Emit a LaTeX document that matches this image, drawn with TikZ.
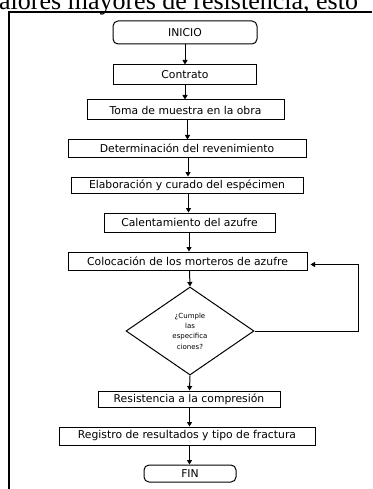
\documentclass[tikz,border=0pt]{standalone}
\usepackage{fontspec}
\setmainfont{DejaVu Sans}
\newfontfamily\seriffont{Liberation Serif}
\usetikzlibrary{shapes.geometric,arrows.meta}
\begin{document}
\begin{tikzpicture}[x=1pt,y=-1pt,
  box/.style={draw,line width=1pt,inner sep=0pt,font=\fontsize{10.8}{12}\selectfont},
  term/.style={box,rounded corners=5pt},
  dec/.style={draw,line width=1pt,diamond,inner sep=0pt,align=center,
    font=\fontsize{7}{10.3}\selectfont},
  flow/.style={line width=1pt,-{Triangle[length=4.5pt,width=5pt]}},
  frame/.style={line width=2pt}]
\useasboundingbox (0,0) rectangle (372,489);
\clip (0,0) rectangle (372,489);
% cropped caption text above the frame
\node[anchor=base west,inner sep=0pt,font=\seriffont\fontsize{26}{26}\selectfont] (cap) at (-1,9.5) {alores mayores de resistencia, esto};
% frame
\coordinate (fr1) at (372,12.5);
\coordinate (fr2) at (8.5,12.5);
\coordinate (fr3) at (8.5,489);
\draw[frame] (fr1) -- (fr2) -- (fr3);
% nodes
\node[term,minimum width=144pt,minimum height=23pt] (inicio) at (185,32.5) {INICIO};
\node[box,minimum width=143pt,minimum height=20pt] (contrato) at (185,75) {Contrato};
\node[box,minimum width=197pt,minimum height=20pt] (toma) at (185.5,110) {Toma de muestra en la obra};
\node[box,minimum width=238pt,minimum height=17pt] (reven) at (187,148.5) {Determinación del revenimiento};
\node[box,minimum width=232pt,minimum height=16pt] (elab) at (187,185) {Elaboración y curado del espécimen};
\node[box,minimum width=171pt,minimum height=19pt] (calent) at (189.5,222.5) {Calentamiento del azufre};
\node[box,minimum width=239pt,minimum height=18pt] (coloc) at (187.5,261) {Colocación de los morteros de azufre};
\node[dec,minimum width=128pt,minimum height=88pt] (cumple) at (190,331) {¿Cumple\\las\\especifica\\ciones?};
\node[box,minimum width=182pt,minimum height=16pt] (resist) at (189,399) {Resistencia a la compresión};
\node[box,minimum width=256pt,minimum height=18pt] (registro) at (187,436) {Registro de resultados y tipo de fractura};
\node[term,minimum width=92pt,minimum height=17pt] (fin) at (190,473.5) {FIN};
% connectors
\draw[flow] (185,0 |- inicio.south) -- (185,0 |- contrato.north);
\draw[flow] (185,0 |- contrato.south) -- (185,0 |- toma.north);
\draw[flow] (187.5,0 |- toma.south) -- (187.5,0 |- reven.north);
\draw[flow] (188,0 |- reven.south) -- (188,0 |- elab.north);
\draw[flow] (188.5,0 |- elab.south) -- (188.5,0 |- calent.north);
\draw[flow] (189,0 |- calent.south) -- (189,0 |- coloc.north);
\draw[flow] (189.5,0 |- coloc.south) -- (cumple.north);
\draw[flow] (cumple.south) -- (189.5,0 |- resist.north);
\draw[flow] (189.5,0 |- resist.south) -- (189.5,0 |- registro.north);
\draw[flow] (189.5,0 |- registro.south) -- (189.5,0 |- fin.north);
\coordinate (loopx) at (358,331);
\draw[flow] (cumple.east) -- (loopx) -- (358,264.5) -- ([xshift=3pt]coloc.east |- 0,264.5);
\end{tikzpicture}
\end{document}
